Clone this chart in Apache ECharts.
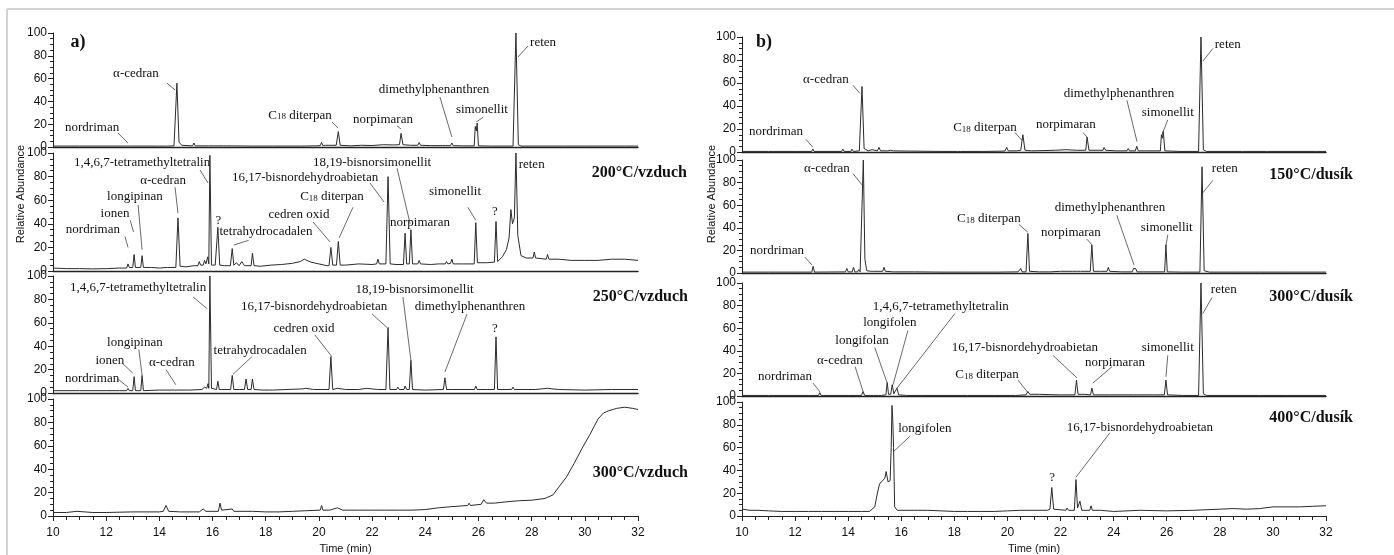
<!DOCTYPE html>
<html>
<head>
<meta charset="utf-8">
<script src="https://cdn.jsdelivr.net/npm/echarts@6/dist/echarts.min.js"></script>
<style>
  html, body { margin: 0; padding: 0; background: #fff; }
  #main { width: 1394px; height: 555px; }
</style>
</head>
<body>
<div id="main"></div>
<script>
// ---- chromatogram traces, [time (min), relative abundance] ----
const a1Trace = [[10,0.8],[11,0.8],[12,0.8],[12.77,0.8],[12.82,2.5],[12.87,0.8],[13.9,0.8],[13.95,2],[14.0,0.8],[14.2,0.8],[14.25,2],[14.3,0.8],[14.55,1],[14.66,56],[14.74,4],[14.85,1.5],[15.25,1],[15.3,3.5],[15.35,1],[15.75,1],[15.8,1.8],[15.85,1],[16.42,1],[16.47,1.5],[16.52,1],[17.5,0.8],[18.25,0.8],[18.3,2],[18.35,0.8],[19.25,0.8],[19.3,1.5],[19.35,0.8],[19.8,1],[19.85,2],[19.9,1],[20.05,1.2],[20.1,4],[20.15,1.2],[20.25,1.5],[20.3,2.5],[20.35,1.5],[20.65,1.5],[20.73,13.5],[20.8,1.5],[21.2,1],[21.6,1.5],[22.0,1.3],[22.4,2],[22.8,1.8],[23.03,2],[23.09,12],[23.16,2],[23.45,1.5],[23.72,1.5],[23.77,4],[23.82,1.5],[24.2,1.2],[24.65,1.2],[24.7,2.5],[24.75,1.2],[24.95,1.2],[25.0,3.5],[25.05,1.2],[25.4,1],[25.84,1],[25.88,18],[25.92,14],[25.95,21],[26.0,1],[26.5,0.8],[27.3,0.8],[27.41,100],[27.5,2],[27.6,0.8],[28.5,0.8],[29.2,0.8],[30.0,0.8],[31.5,0.8],[32,0.8]];

const a2Trace = [[10,2.5],[10.5,2],[11,2],[11.5,1.8],[12,2],[12.5,2.5],[12.77,2.5],[12.82,6],[12.87,3],[13.0,3],[13.05,14],[13.1,3],[13.3,3],[13.35,13],[13.4,3],[13.7,3],[14.0,2.5],[14.3,3],[14.62,3],[14.7,45],[14.78,4],[15.0,3.5],[15.3,4.5],[15.45,4.5],[15.5,8],[15.55,5],[15.65,5],[15.7,9],[15.75,6],[15.82,12],[15.86,6],[15.9,98],[15.96,5],[16.1,5],[16.2,37],[16.27,5],[16.45,4.5],[16.67,4.5],[16.74,19],[16.8,5],[16.9,7],[17.0,4.5],[17.1,8],[17.2,4.5],[17.45,4.5],[17.5,15],[17.56,4.5],[17.8,4],[18.2,5],[18.6,5.5],[19.0,6.5],[19.3,8],[19.45,10],[19.7,7.5],[20.0,6],[20.3,4.5],[20.38,4.5],[20.45,20],[20.52,5],[20.66,5],[20.73,25],[20.8,5],[21.0,5],[21.5,6],[22.0,5.5],[22.17,6],[22.22,10],[22.27,6],[22.52,6],[22.6,80],[22.68,6],[22.9,5.5],[23.18,5.5],[23.24,32],[23.3,6],[23.4,6],[23.46,35],[23.52,6],[23.72,6],[23.77,9],[23.82,6],[24.2,5.5],[24.5,6],[24.75,6],[24.8,8],[24.85,6],[24.95,6.5],[25.0,10],[25.05,6],[25.4,6],[25.84,6],[25.9,41],[25.96,7],[26.3,7],[26.6,7.5],[26.66,42],[26.72,8],[26.9,12],[27.05,18],[27.15,28],[27.22,52],[27.28,40],[27.35,45],[27.41,100],[27.48,30],[27.6,13],[27.8,11],[28.05,11],[28.1,16],[28.15,11],[28.55,10],[28.6,14],[28.65,10],[29.0,10],[29.5,9],[30.0,9],[30.5,9],[31.0,10],[31.5,10],[32,9]];

const a3Trace = [[10,2],[11,2],[12,2],[12.5,2],[12.77,2],[12.82,4],[12.87,2],[13.0,2],[13.05,14],[13.1,2],[13.3,2],[13.35,15],[13.4,2],[14.0,2.5],[14.57,2.5],[14.62,4],[14.67,2.5],[15.05,2.5],[15.1,4],[15.15,2.5],[15.6,3],[15.7,5],[15.78,4],[15.83,8],[15.86,4],[15.9,100],[15.96,4],[16.15,3],[16.2,10],[16.25,3],[16.3,4],[16.35,3],[16.68,3],[16.74,15],[16.8,3],[17.0,3],[17.2,3],[17.26,12],[17.32,3],[17.45,3],[17.5,12],[17.56,3],[17.9,2.5],[18.15,2.5],[18.2,4],[18.25,2.5],[18.8,3],[19.4,3.5],[19.5,4],[19.8,3],[20.38,3],[20.45,31],[20.52,3],[20.7,4],[21.0,3],[21.5,3],[21.8,4],[22.2,3],[22.52,3],[22.6,56],[22.67,3],[22.92,3],[22.97,5],[23.02,3],[23.2,3],[23.24,6],[23.3,3],[23.4,3],[23.46,28],[23.52,3],[24.0,2.5],[24.68,3],[24.74,13],[24.8,3],[25.0,3],[25.85,3],[25.9,6],[25.95,3],[26.3,3],[26.6,3],[26.66,48],[26.72,3],[27.25,3],[27.3,5],[27.35,3],[28.05,3],[28.1,4],[28.15,3],[28.6,4],[29.0,3],[30.0,2.5],[31.0,3],[32,3]];

const a4Trace = [[10,3],[10.5,3],[10.9,4],[11.5,3],[12,3],[13,3.5],[14.0,3.5],[14.15,4],[14.25,9],[14.35,4],[14.8,3.5],[15.5,3.5],[15.65,6],[15.75,4],[16.22,4],[16.28,11],[16.34,5],[16.74,6],[16.8,4],[17.5,4],[18.0,3.5],[18.5,3.5],[19.0,4],[19.5,4.5],[20.05,5],[20.1,9],[20.15,5],[20.4,5],[20.7,7],[20.9,5],[21.5,5],[22,5],[22.5,5],[23,5],[23.5,5],[24,5.5],[24.5,7],[25,8],[25.6,9],[25.65,11],[25.7,9],[26.1,10],[26.2,14],[26.3,11],[26.6,11],[27,12],[27.5,13],[28,13.5],[28.5,15],[28.8,18],[29.0,24],[29.3,33],[29.6,45],[29.9,58],[30.2,70],[30.5,83],[30.7,88],[30.9,90],[31.2,92],[31.5,93],[31.8,92],[32,91]];

const b1Trace = [[10,0.5],[11,0.5],[12,0.5],[12.62,0.5],[12.67,2.5],[12.72,0.5],[13.75,0.5],[13.8,2.5],[13.85,0.5],[14.1,0.5],[14.14,2.5],[14.2,0.5],[14.42,1],[14.52,57],[14.6,3],[14.75,1],[14.9,2],[14.95,1],[15.1,1],[15.16,4],[15.22,1],[15.5,1],[15.6,1.5],[15.7,1],[16.25,0.8],[16.3,1.2],[16.35,0.8],[17.5,0.5],[18.12,0.5],[18.17,2],[18.22,0.5],[19.05,0.5],[19.1,1.2],[19.15,0.5],[19.9,0.8],[19.97,4],[20.03,1],[20.25,1],[20.3,2],[20.35,1],[20.5,1.5],[20.58,15],[20.66,1.5],[20.9,1],[21.3,1.2],[21.8,1.5],[22.2,2],[22.6,1.5],[22.95,1.5],[23.0,13],[23.07,1.5],[23.3,1.5],[23.6,1.5],[23.64,4],[23.7,1.5],[24.1,1],[24.5,1],[24.55,3],[24.6,1],[24.82,1],[24.87,5],[24.93,1],[25.2,1],[25.76,1],[25.8,15],[25.84,12],[25.87,18],[25.93,1],[26.5,0.5],[27.2,0.5],[27.29,100],[27.38,2],[27.5,0.5],[28.85,0.5],[28.9,1.2],[28.95,0.5],[29.75,0.5],[29.8,1.2],[29.85,0.5],[31.55,0.5],[31.6,1.2],[31.65,0.5],[32,0.5]];

const b2Trace = [[10,0.8],[11,0.8],[12,0.8],[12.63,0.8],[12.68,6],[12.73,0.8],[13.9,1],[13.95,4],[14.0,1],[14.15,1],[14.2,5],[14.25,1],[14.35,1],[14.4,3],[14.45,1],[14.52,2],[14.57,100],[14.63,12],[14.7,2],[14.85,1.5],[14.9,3],[14.95,1.5],[15.3,1.5],[15.35,5],[15.4,1.5],[15.7,1],[15.75,2],[15.8,1],[16.4,1],[16.45,2],[16.5,1],[17.5,0.8],[18.45,0.8],[18.5,2],[18.55,0.8],[19.55,0.8],[19.6,1.5],[19.65,0.8],[20.4,1],[20.5,4],[20.55,1],[20.7,1],[20.77,35],[20.83,1.5],[21.2,1],[21.6,1],[22.0,1.5],[22.45,1.5],[22.5,3],[22.55,1.5],[22.65,1.5],[22.7,3],[22.75,1.5],[23.12,1.5],[23.18,25],[23.24,1.5],[23.5,1.5],[23.75,1.5],[23.8,5],[23.85,1.5],[24.3,1],[24.7,1],[24.75,4],[24.8,3],[24.83,4],[24.88,1],[25.3,1],[25.92,1],[25.97,25],[26.02,1],[26.6,0.8],[27.25,0.8],[27.33,94],[27.41,2],[27.6,0.8],[28.5,0.8],[29.5,0.8],[30.5,0.8],[32,0.8]];

const b3Trace = [[10,0.5],[11,0.5],[12,0.5],[12.45,0.5],[12.5,1.2],[12.55,0.5],[12.88,0.5],[12.93,3],[12.98,0.5],[13.08,0.5],[13.12,2],[13.17,0.5],[14.0,0.5],[14.5,0.5],[14.56,4],[14.62,0.5],[14.85,0.5],[14.9,2],[14.95,0.5],[15.15,0.5],[15.2,2],[15.25,0.5],[15.42,1],[15.47,12],[15.52,1.5],[15.6,1.5],[15.66,10],[15.72,2],[15.78,2],[15.84,7],[15.9,1],[16.2,0.5],[16.75,0.5],[16.8,1.5],[16.85,0.5],[17.5,0.5],[18.5,0.5],[19.5,0.5],[20.3,0.5],[20.7,1],[20.77,4],[20.84,1.5],[21.2,1.5],[21.6,1.2],[22.0,1],[22.54,1],[22.6,14],[22.66,1.5],[22.8,1.5],[22.85,2.5],[22.9,1.5],[23.13,1],[23.18,7],[23.24,1],[23.75,1],[23.8,2],[23.85,1],[24.75,1],[24.8,2],[24.85,1],[25.5,1],[25.91,1],[25.97,14],[26.03,1],[26.6,0.5],[27.2,0.5],[27.29,100],[27.38,2],[27.5,0.5],[28.5,0.5],[29.5,0.5],[30.5,0.5],[32,0.5]];

const b4Trace = [[10,6],[10.3,5],[10.6,5],[11,4.5],[11.5,4],[12,4],[12.5,4],[12.9,4],[12.95,5.5],[13.0,4],[13.5,4],[14,4],[14.5,4],[14.8,4],[15.0,8],[15.1,20],[15.18,28],[15.25,30],[15.32,31],[15.38,33],[15.43,39],[15.5,30],[15.58,31],[15.62,60],[15.65,97],[15.68,84],[15.71,60],[15.75,8],[15.85,5],[16.5,5],[17,5],[17.5,4.5],[18,4],[18.5,4],[19,4],[19.5,4],[20,4.5],[20.5,5],[21,5],[21.5,5],[21.6,6],[21.67,25],[21.74,6],[22.2,5],[22.25,7],[22.3,5],[22.52,5],[22.58,32],[22.64,7],[22.73,13],[22.8,5],[23.1,5],[23.15,9],[23.2,5],[23.5,5],[24,4],[25,5],[26,4.5],[27,5],[28,6],[28.5,6.5],[29,6],[29.5,6.5],[30,8],[31,8],[31.5,8.5],[32,9]];

// ---- peak annotations: [text, label time, label abundance, leader from (t,v) to (t,v)] ----
const a1Notes = [
  ['nordriman', 11.47, 16.7, [12.44, 12.3, 12.82, 3.5]],
  ['α-cedran', 13.12, 64, [14.29, 56, 14.59, 50]],
  ['C18 diterpan', 19.29, 28, [20.49, 22, 20.72, 16.7]],
  ['norpimaran', 22.41, 23.7, [22.94, 18.4, 23.09, 15.8]],
  ['dimethylphenanthren', 24.33, 50, [24.55, 43.9, 25.0, 8.8]],
  ['simonellit', 26.13, 32.5, [26.17, 26, 25.92, 22]],
  ['reten', 28.43, 92, [27.86, 88.6, 27.49, 79]]
];
const a2Notes = [
  ['nordriman', 11.5, 34.7, [12.71, 29, 12.82, 20]],
  ['ionen', 12.33, 49, [12.9, 43, 13.03, 33]],
  ['longipinan', 13.08, 62.7, [13.2, 56, 13.35, 18]],
  ['α-cedran', 14.14, 77, [14.59, 71, 14.7, 49]],
  ['1,4,6,7-tetramethyltetralin', 13.35, 91.5, [15.53, 85.6, 15.83, 74.6]],
  ['?', 16.22, 43, null],
  ['tetrahydrocadalen', 18.01, 33, [16.8, 22, 17.36, 26]],
  ['cedren oxid', 19.25, 48, [19.78, 41.5, 20.42, 24.6]],
  ['C18 diterpan', 20.49, 63, [21.28, 54, 20.76, 28]],
  ['16,17-bisnordehydroabietan', 19.48, 79, [21.92, 74.6, 22.45, 58.5]],
  ['18,19-bisnorsimonellit', 22.0, 92, [22.94, 87, 23.43, 40]],
  ['norpimaran', 23.8, 41, null],
  ['simonellit', 25.12, 67, [25.6, 54, 25.9, 43]],
  ['?', 26.62, 50, null],
  ['reten', 28.0, 90, null]
];
const a3Notes = [
  ['nordriman', 11.47, 12, [12.44, 12, 12.82, 5]],
  ['ionen', 12.14, 28, [12.63, 25, 13.0, 17]],
  ['longipinan', 13.08, 43, [13.23, 37, 13.35, 15]],
  ['α-cedran', 14.47, 26, [14.25, 20, 14.62, 7]],
  ['1,4,6,7-tetramethyltetralin', 13.2, 90, [15.27, 82, 15.8, 72]],
  ['tetrahydrocadalen', 17.79, 36, [17.48, 31, 16.77, 16]],
  ['cedren oxid', 19.44, 55, [19.85, 49.6, 20.49, 31]],
  ['16,17-bisnordehydroabietan', 19.82, 73.5, [22.0, 67.5, 22.56, 56]],
  ['18,19-bisnorsimonellit', 23.6, 88, [23.16, 82, 23.46, 28]],
  ['dimethylphenanthren', 25.68, 73.5, [25.57, 67.5, 24.74, 18]],
  ['?', 26.62, 55, null]
];
const a4Notes = [];
const b1Notes = [
  ['nordriman', 11.28, 18, [12.41, 11, 12.67, 4]],
  ['α-cedran', 13.16, 63, [14.18, 58, 14.44, 51]],
  ['C18 diterpan', 19.15, 21, [20.28, 17, 20.55, 10]],
  ['norpimaran', 22.2, 23.5, [22.84, 17, 23.0, 13]],
  ['dimethylphenanthren', 24.2, 51, [24.5, 45, 24.88, 9]],
  ['simonellit', 26.04, 34, [26.04, 28, 25.82, 15]],
  ['reten', 28.3, 93, [27.74, 90, 27.36, 79]]
];
const b2Notes = [
  ['nordriman', 11.32, 19.5, [12.37, 14, 12.64, 7]],
  ['α-cedran', 13.2, 92, [14.18, 88, 14.52, 78]],
  ['C18 diterpan', 19.3, 48, [20.43, 43, 20.77, 36]],
  ['norpimaran', 22.39, 36, [22.99, 30, 23.18, 25]],
  ['dimethylphenanthren', 23.86, 58, [24.12, 51, 24.77, 7]],
  ['simonellit', 26.0, 40, [26.04, 34, 25.97, 24]],
  ['reten', 28.19, 92, [27.74, 82, 27.36, 71]]
];
const b3Notes = [
  ['nordriman', 11.62, 17, [12.67, 11.5, 12.94, 3.5]],
  ['α-cedran', 13.69, 31, [14.26, 26, 14.56, 4]],
  ['longifolan', 14.52, 49, [15.0, 43, 15.46, 12]],
  ['longifolen', 15.57, 64.6, [16.25, 58, 15.69, 10]],
  ['1,4,6,7-tetramethyltetralin', 17.49, 79, [18.02, 73, 15.84, 7]],
  ['16,17-bisnordehydroabietan', 20.66, 43, [21.71, 36, 22.62, 16]],
  ['C18 diterpan', 19.23, 18.6, [20.4, 14, 20.77, 3]],
  ['norpimaran', 24.05, 30, [23.94, 26, 23.22, 11.5]],
  ['simonellit', 26.04, 42.5, [26.04, 36, 25.97, 17]],
  ['reten', 28.15, 94, [27.7, 87, 27.36, 73]]
];
const b4Notes = [
  ['longifolen', 16.89, 76.5, [16.33, 70, 15.73, 57]],
  ['?', 21.68, 34, null],
  ['16,17-bisnordehydroabietan', 24.99, 78, [23.86, 73, 22.58, 34]]
];

const yTicks = [0, 20, 40, 60, 80, 100];
const timeTicks = [10, 12, 14, 16, 18, 20, 22, 24, 26, 28, 30, 32];

// ---- layout of the eight stacked plots ----
const plots = [
  { trace: a1Trace, notes: a1Notes, left: 53, top: 33, width: 585, height: 114, last: false },
  { trace: a2Trace, notes: a2Notes, left: 53, top: 153, width: 585, height: 118, last: false },
  { trace: a3Trace, notes: a3Notes, left: 53, top: 276, width: 585, height: 117, last: false },
  { trace: a4Trace, notes: a4Notes, left: 53, top: 399, width: 585, height: 117, last: true },
  { trace: b1Trace, notes: b1Notes, left: 742, top: 37, width: 584, height: 115, last: false },
  { trace: b2Trace, notes: b2Notes, left: 742, top: 160, width: 584, height: 113, last: false },
  { trace: b3Trace, notes: b3Notes, left: 742, top: 283, width: 584, height: 113, last: false },
  { trace: b4Trace, notes: b4Notes, left: 742, top: 402, width: 584, height: 115, last: true }
];

const SANS = 'Liberation Sans, Arial, sans-serif';
const SERIF = 'Liberation Serif, Times New Roman, serif';
const INK = '#111';

const grids = [], xAxes = [], yAxes = [], series = [];
plots.forEach((p, i) => {
  grids.push({ left: p.left, top: p.top, width: p.width, height: p.height });
  xAxes.push({
    gridIndex: i, type: 'value', min: timeTicks[0], max: timeTicks[timeTicks.length - 1], interval: 2,
    axisLine: { show: true, lineStyle: { color: '#222', width: p.last ? 1 : 1.4 } },
    axisTick: { show: p.last, length: 5, lineStyle: { color: '#222' } },
    minorTick: { show: p.last, splitNumber: 4, length: 4, lineStyle: { color: '#222' } },
    axisLabel: { show: p.last, fontFamily: SANS, fontSize: 12, color: INK, margin: 11 },
    splitLine: { show: false },
    name: p.last ? 'Time (min)' : '', nameLocation: 'middle', nameGap: 27,
    nameTextStyle: { fontFamily: SANS, fontSize: 11, color: INK }
  });
  yAxes.push({
    gridIndex: i, type: 'value', min: yTicks[0], max: yTicks[yTicks.length - 1], interval: 20,
    axisLine: { show: true, lineStyle: { color: '#222', width: 1 } },
    axisTick: { show: true, length: 5, lineStyle: { color: '#222' } },
    minorTick: { show: true, splitNumber: 4, length: 3, lineStyle: { color: '#222' } },
    axisLabel: { fontFamily: SANS, fontSize: 12, color: INK, margin: 6 },
    splitLine: { show: false }
  });
  series.push({
    type: 'line', xAxisIndex: i, yAxisIndex: i, data: p.trace,
    showSymbol: false, symbol: 'none', silent: true, animation: false,
    lineStyle: { color: '#2b2b2b', width: 1 }, clip: true
  });
  series.push({
    type: 'scatter', xAxisIndex: i, yAxisIndex: i, symbolSize: 0, silent: true, animation: false,
    itemStyle: { opacity: 1 },
    data: p.notes.map(n => ({ value: [n[1], n[2]], name: n[0] })),
    label: {
      show: true, position: 'inside', align: 'center', verticalAlign: 'middle',
      fontFamily: SERIF, fontSize: 13, color: INK,
      formatter: prm => prm.name.startsWith('C18')
        ? '{t|C}{s|18}{t|' + prm.name.slice(3) + '}'
        : '{t|' + prm.name + '}',
      rich: {
        t: { fontFamily: SERIF, fontSize: 13, color: INK },
        s: { fontFamily: SERIF, fontSize: 9, color: INK, verticalAlign: 'bottom', padding: [3, 0, 0, 0] }
      }
    },
    markLine: {
      silent: true, animation: false, symbol: ['none', 'none'],
      label: { show: false },
      lineStyle: { color: '#444', width: 0.8, type: 'solid' },
      emphasis: { disabled: true },
      data: p.notes.filter(n => n[3]).map(n => [
        { coord: [n[3][0], n[3][1]] }, { coord: [n[3][2], n[3][3]] }
      ])
    }
  });
});

const condStyle = { font: 'bold 16px ' + SERIF, fill: '#111', textAlign: 'right', textVerticalAlign: 'middle' };
const graphic = [
  { type: 'line', shape: { x1: 7, y1: 9, x2: 1394, y2: 9 }, style: { stroke: '#d2d2d2', lineWidth: 2 } },
  { type: 'line', shape: { x1: 7, y1: 9, x2: 7, y2: 555 }, style: { stroke: '#d2d2d2', lineWidth: 2 } },
  { type: 'text', x: 78, y: 42, style: { text: 'a)', font: 'bold 18px ' + SERIF, fill: '#111', textAlign: 'center', textVerticalAlign: 'middle' } },
  { type: 'text', x: 764, y: 42, style: { text: 'b)', font: 'bold 18px ' + SERIF, fill: '#111', textAlign: 'center', textVerticalAlign: 'middle' } },
  { type: 'text', x: 21, y: 194, rotation: Math.PI / 2, style: { text: 'Relative Abundance', font: '11px ' + SANS, fill: INK, textAlign: 'center', textVerticalAlign: 'middle' } },
  { type: 'text', x: 712, y: 194, rotation: Math.PI / 2, style: { text: 'Relative Abundance', font: '11px ' + SANS, fill: INK, textAlign: 'center', textVerticalAlign: 'middle' } },
  { type: 'text', x: 687, y: 173, style: Object.assign({ text: '200°C/vzduch' }, condStyle) },
  { type: 'text', x: 688, y: 297, style: Object.assign({ text: '250°C/vzduch' }, condStyle) },
  { type: 'text', x: 688, y: 473, style: Object.assign({ text: '300°C/vzduch' }, condStyle) },
  { type: 'text', x: 1353, y: 175, style: Object.assign({ text: '150°C/dusík' }, condStyle) },
  { type: 'text', x: 1353, y: 297, style: Object.assign({ text: '300°C/dusík' }, condStyle) },
  { type: 'text', x: 1353, y: 418, style: Object.assign({ text: '400°C/dusík' }, condStyle) }
];

const chart = echarts.init(document.getElementById('main'), null, { renderer: 'canvas' });
chart.setOption({
  backgroundColor: '#ffffff',
  animation: false,
  grid: grids,
  xAxis: xAxes,
  yAxis: yAxes,
  series: series,
  graphic: graphic
});
</script>
</body>
</html>
